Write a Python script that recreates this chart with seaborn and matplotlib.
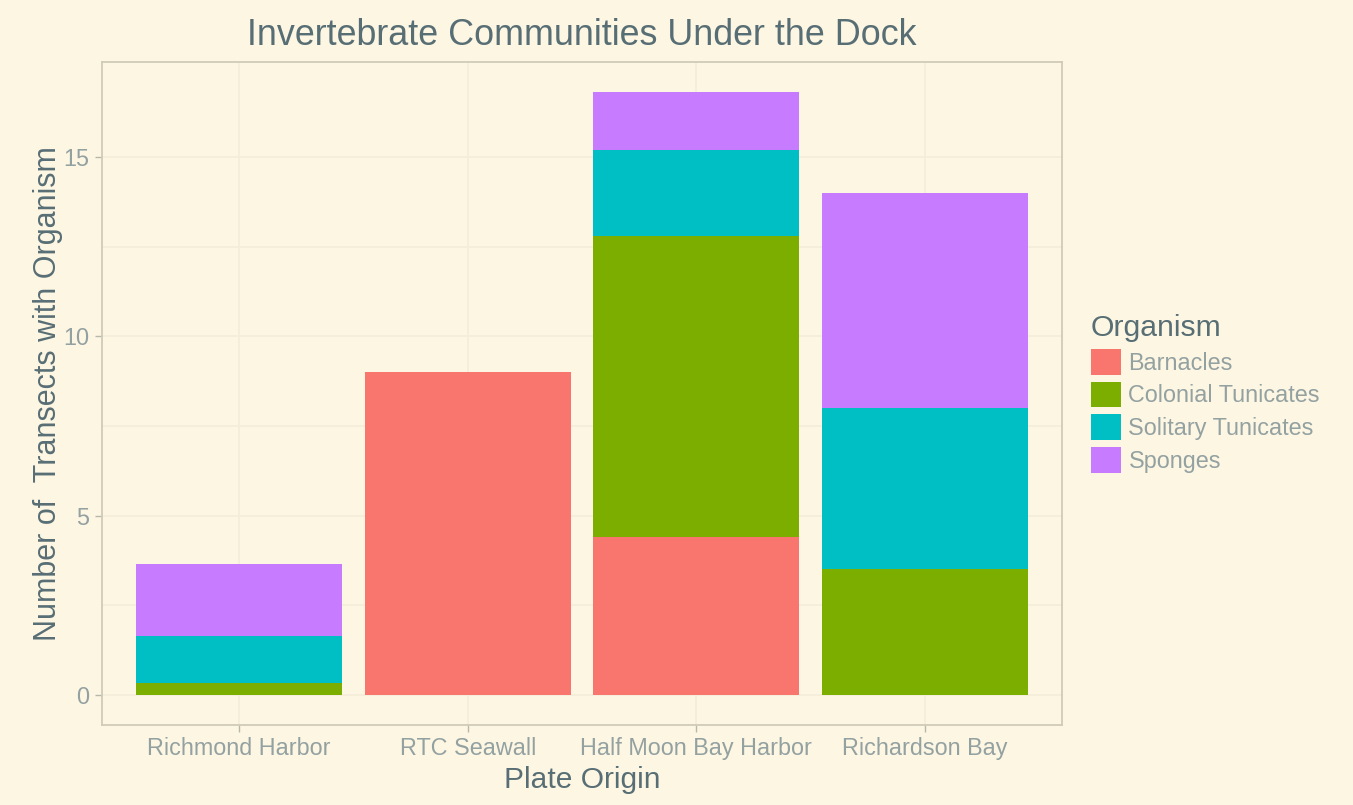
import pandas as pd
import matplotlib.pyplot as plt
import seaborn as sns
from matplotlib.patches import Patch

# ----------------------------
# Data
# ----------------------------
sites = ["Richmond Harbor", "RTC Seawall", "Half Moon Bay Harbor", "Richardson Bay"]
organisms = ["Barnacles", "Colonial Tunicates", "Solitary Tunicates", "Sponges"]

barnacles = [0.0, 9.0, 4.4, 0.0]
colonial = [0.33, 0.0, 8.4, 3.5]
solitary = [1.32, 0.0, 2.4, 4.5]
sponges = [2.0, 0.0, 1.6, 6.0]

colors = ["#F8766D", "#7CAE00", "#00BFC4", "#C77CFF"]

rows = []
for org, vals in zip(organisms, [barnacles, colonial, solitary, sponges]):
    for site, v in zip(sites, vals):
        rows.append({"Site": site, "Organism": org, "Count": v})
df = pd.DataFrame(rows)

# solarized-ish look
bg = "#FDF6E3"
sns.set_theme(style="white", rc={"figure.facecolor": bg, "axes.facecolor": bg})
plt.rcParams["font.family"] = ["Liberation Sans", "DejaVu Sans"]

fig = plt.figure(figsize=(13.53, 8.05), dpi=100)
ax = fig.add_axes([0.0754, 0.0994, 0.7096, 0.8236])

palette = dict(zip(organisms, colors))
# histplot stacks the last hue level at the bottom, so reverse the order
sns.histplot(data=df, x="Site", hue="Organism", weights="Count", multiple="stack",
             hue_order=organisms[::-1], palette=palette, discrete=True, shrink=0.9,
             linewidth=0, alpha=1, ax=ax, legend=False)

ax.set_xlim(-0.6, 3.6)
ax.set_ylim(-0.84, 17.65)
ax.set_yticks([0, 5, 10, 15])
ax.set_yticks([2.5, 7.5, 12.5], minor=True)
ax.set_xticks(range(len(sites)))
ax.set_xticklabels(sites)

grid_col = "#F3EDDA"
ax.grid(True, which="major", color=grid_col, linewidth=1.2)
ax.grid(True, which="minor", axis="y", color=grid_col, linewidth=1.2)
ax.set_axisbelow(True)

for s in ax.spines.values():
    s.set_visible(True)
    s.set_color("#CFCBB8")
    s.set_linewidth(1.3)

ax.tick_params(axis="both", which="major", length=5, width=1, color="#B8B8A8",
               labelsize=16.8, labelcolor="#93A1A1", pad=4, left=True, bottom=True)
ax.tick_params(axis="y", which="minor", length=0)

ax.set_title("Invertebrate Communities Under the Dock", fontsize=25.8, color="#586E75", pad=12)
ax.set_xlabel("Plate Origin", fontsize=21.6, color="#586E75", labelpad=4)
ax.set_ylabel("Number of  Transects with Organism", fontsize=22, color="#586E75", labelpad=0)

handles = [Patch(facecolor=c, edgecolor="none") for c in colors]
leg = ax.legend(handles, organisms, title="Organism", loc="center left",
                bbox_to_anchor=(1.02, 0.5), frameon=False, fontsize=16.8,
                title_fontsize=21.7, handlelength=1.32, handleheight=1.32,
                labelspacing=0.3, handletextpad=0.3, borderaxespad=0)
leg._legend_box.align = "left"
leg.get_title().set_color("#586E75")
for t in leg.get_texts():
    t.set_color("#93A1A1")

fig.savefig("out.png", dpi=100, facecolor=bg)
